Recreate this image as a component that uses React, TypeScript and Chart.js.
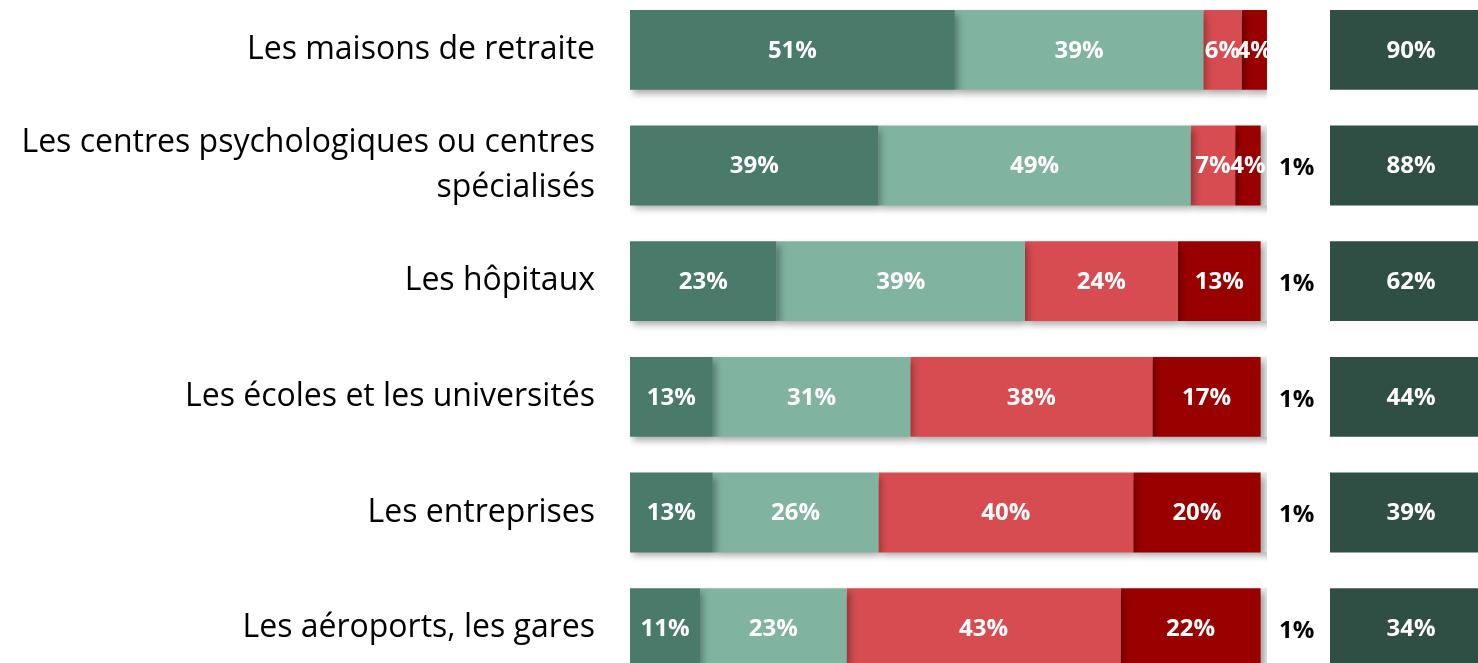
import React, { useEffect, useRef } from 'react';
import { Chart, registerables } from 'chart.js';

Chart.register(...registerables);

const categories: (string | string[])[] = [
  'Les maisons de retraite',
  ['Les centres psychologiques ou centres', 'spécialisés'],
  'Les hôpitaux',
  'Les écoles et les universités',
  'Les entreprises',
  'Les aéroports, les gares',
];
const tresFavorable = [51, 39, 23, 13, 13, 11];
const plutotFavorable = [39, 49, 39, 31, 26, 23];
const plutotOppose = [6, 7, 24, 38, 40, 43];
const tresOppose = [4, 4, 13, 17, 20, 22];
const nspp = [0, 1, 1, 1, 1, 1];
const totals = [90, 88, 62, 44, 39, 34];

const FONT = "'Open Sans', 'Noto Sans', sans-serif";

const shadowPlugin = {
  id: 'barShadow',
  beforeDatasetDraw(chart: any) {
    const ctx = chart.ctx;
    ctx.save();
    ctx.shadowColor = 'rgba(0,0,0,0.35)';
    ctx.shadowBlur = 7;
    ctx.shadowOffsetX = 3;
    ctx.shadowOffsetY = 4;
  },
  afterDatasetDraw(chart: any) {
    chart.ctx.restore();
  },
};

const segLabelPlugin = {
  id: 'segLabels',
  afterDatasetsDraw(chart: any) {
    const ctx = chart.ctx;
    ctx.save();
    ctx.font = `bold 24px ${FONT}`;
    ctx.textBaseline = 'middle';
    chart.data.datasets.forEach((ds: any, di: number) => {
      const meta = chart.getDatasetMeta(di);
      meta.data.forEach((el: any, i: number) => {
        const v = ds.data[i];
        if (!v) return;
        const txt = `${v}%`;
        if (di < 4) {
          ctx.fillStyle = '#ffffff';
          ctx.textAlign = 'center';
          ctx.fillText(txt, (el.x + el.base) / 2, el.y + 1);
        } else {
          ctx.fillStyle = '#000000';
          ctx.textAlign = 'left';
          ctx.fillText(txt, el.x + 12, el.y + 3);
        }
      });
    });
    ctx.restore();
  },
};

const totalLabelPlugin = {
  id: 'totalLabels',
  afterDatasetsDraw(chart: any) {
    const ctx = chart.ctx;
    const area = chart.chartArea;
    ctx.save();
    ctx.font = `bold 24px ${FONT}`;
    ctx.textBaseline = 'middle';
    ctx.textAlign = 'center';
    ctx.fillStyle = '#ffffff';
    const meta = chart.getDatasetMeta(0);
    meta.data.forEach((el: any, i: number) => {
      ctx.fillText(`${totals[i]}%`, (area.left + area.right) / 2, el.y + 1);
    });
    ctx.restore();
  },
};

export default function App() {
  const leftRef = useRef<HTMLCanvasElement>(null);
  const rightRef = useRef<HTMLCanvasElement>(null);

  useEffect(() => {
    document.body.style.margin = '0';
    const left = new Chart(leftRef.current!, {
      type: 'bar',
      data: {
        labels: categories as any,
        datasets: [
          { label: 'Très favorable', data: tresFavorable, backgroundColor: '#4a7a6a' },
          { label: 'Plutôt favorable', data: plutotFavorable, backgroundColor: '#80b4a0' },
          { label: 'Plutôt opposé', data: plutotOppose, backgroundColor: '#d74c50' },
          { label: 'Très opposé', data: tresOppose, backgroundColor: '#990000' },
          { label: 'Ne se prononce pas', data: nspp, backgroundColor: '#ededed' },
        ],
      },
      options: {
        indexAxis: 'y',
        animation: false,
        responsive: true,
        maintainAspectRatio: false,
        layout: { padding: { left: 0, right: 63, top: 0, bottom: 0 } },
        datasets: { bar: { categoryPercentage: 1, barPercentage: 0.69, borderWidth: 0 } },
        plugins: { legend: { display: false }, tooltip: { enabled: false } },
        scales: {
          x: { stacked: true, min: 0, max: 100, display: false },
          y: {
            stacked: true,
            grid: { display: false, drawTicks: false },
            border: { display: false },
            ticks: {
              padding: 35,
              color: '#000000',
              font: { family: FONT, size: 32, lineHeight: 1.4 },
            },
            afterFit(scale: any) {
              scale.width = 630;
              scale.paddingTop = 0;
              scale.paddingBottom = 0;
            },
          },
        },
      },
      plugins: [shadowPlugin, segLabelPlugin],
    });

    const right = new Chart(rightRef.current!, {
      type: 'bar',
      data: {
        labels: categories as any,
        datasets: [
          { label: 'Total favorable', data: totals, backgroundColor: '#2f4f44', clip: 0 } as any,
        ],
      },
      options: {
        indexAxis: 'y',
        animation: false,
        responsive: true,
        maintainAspectRatio: false,
        layout: { padding: 0 },
        datasets: { bar: { categoryPercentage: 1, barPercentage: 0.69, borderWidth: 0 } },
        plugins: { legend: { display: false }, tooltip: { enabled: false } },
        scales: {
          x: { min: 0, max: 10, display: false },
          y: { display: false },
        },
      },
      plugins: [totalLabelPlugin],
    });

    return () => {
      left.destroy();
      right.destroy();
    };
  }, []);

  return (
    <div style={{ position: 'fixed', left: 0, top: 0, width: 1478, height: 663, overflow: 'hidden', background: '#ffffff' }}>
      <div style={{ position: 'absolute', left: 0, top: -8, width: 1330, height: 694 }}>
        <canvas ref={leftRef} />
      </div>
      <div style={{ position: 'absolute', left: 1330, top: -8, width: 162, height: 694 }}>
        <canvas ref={rightRef} />
      </div>
    </div>
  );
}
